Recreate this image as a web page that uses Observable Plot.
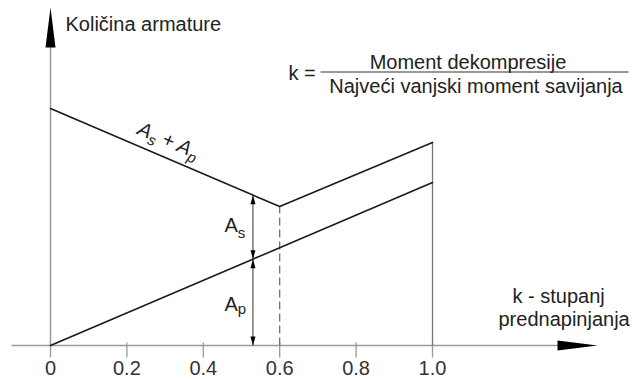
<!DOCTYPE html>
<html>
<head>
<meta charset="utf-8">
<script src="https://cdn.jsdelivr.net/npm/d3@7"></script>
<script src="https://cdn.jsdelivr.net/npm/@observablehq/plot@0.6"></script>
<style>
  html, body { margin: 0; padding: 0; background: #fff; }
</style>
</head>
<body>
<div id="chart"></div>
<script>
// ---- data ----
const xTicks = [0, 0.2, 0.4, 0.6, 0.8, 1.0];
const xTickLabels = ["0", "0.2", "0.4", "0.6", "0.8", "1.0"];
const sumK = [0, 0.6, 1.0];          // As + Ap
const sumV = [79, 46.3, 67.7];
const apK = [0, 1.0];                // Ap
const apV = [0, 54.3];
const kDecomp = 0.6;                 // dashed line
const kMark = 0.53;                  // dimension arrows
const kMax = 1.0;
const yTitle = "Količina armature";
const xTitle1 = "k - stupanj";
const xTitle2 = "prednapinjanja";
const formulaLeft = "k =";
const formulaNum = "Moment dekompresije";
const formulaDen = "Najveći vanjski moment savijanja";

// axis extents (in data units)
const X_FROM = -0.102, X_TIP = 1.432, Y_TIP = 112.67;

const sumData = sumK.map((k, i) => ({k, v: sumV[i]}));
const apData = apK.map((k, i) => ({k, v: apV[i]}));
const lerp = (K, V, k) => {
  for (let i = 0; i < K.length - 1; i++)
    if (k >= K[i] && k <= K[i + 1]) return V[i] + (V[i + 1] - V[i]) * (k - K[i]) / (K[i + 1] - K[i]);
  return V[V.length - 1];
};
const sumAt = k => lerp(sumK, sumV, k);
const apAt = k => lerp(apK, apV, k);

// arrowhead symbol: tip at origin, pointing up
const tri = (len, half) => ({
  draw(ctx) { ctx.moveTo(0, 0); ctx.lineTo(half, len); ctx.lineTo(-half, len); ctx.closePath(); }
});

const AX = "#9a9a9a", INK = "#1a1a1a", TXT = "#222";
const FONT = "'Liberation Sans', Arial, Helvetica, sans-serif";

const dimHeads = [
  {k: kMark, v: sumAt(kMark), r: 0},
  {k: kMark, v: apAt(kMark), r: 180},
  {k: kMark, v: apAt(kMark), r: 0},
  {k: kMark, v: 0, r: 180}
];

const txt = (data, opts) => Plot.text(data, {x: "x", y: "y", text: "t", lineAnchor: "bottom",
  fontSize: 20, fill: TXT, ...opts});

const chart = Plot.plot({
  width: 632,
  height: 379,
  marginLeft: 50,
  marginRight: 200,
  marginTop: 9,
  marginBottom: 34,
  x: {domain: [0, 1], axis: null},
  y: {domain: [0, 112], axis: null},
  style: {fontFamily: FONT, background: "#fff"},
  marks: [
    // x axis
    Plot.link([{x1: X_FROM, x2: X_TIP - 0.06, y: 0}], {x1: "x1", x2: "x2", y1: "y", y2: "y", stroke: AX, strokeWidth: 1.5}),
    Plot.dot([{x: X_TIP, y: 0}], {x: "x", y: "y", symbol: tri(40, 5), rotate: 90, r: 5, fill: "#000", stroke: "none"}),
    // y axis
    Plot.link([{x: 0, y1: 0, y2: Y_TIP - 6}], {x1: "x", x2: "x", y1: "y1", y2: "y2", stroke: AX, strokeWidth: 1.5}),
    Plot.dot([{x: 0, y: Y_TIP}], {x: "x", y: "y", symbol: tri(40, 5), rotate: 0, r: 5, fill: "#000", stroke: "none"}),
    // ticks (cross the axis, mostly below)
    Plot.link(xTicks.map(k => ({k})), {x1: "k", x2: "k", y1: () => -4, y2: () => 1, stroke: AX, strokeWidth: 1.3}),
    Plot.text(xTicks.map((k, i) => ({k, t: xTickLabels[i]})), {x: "k", y: () => 0, text: "t", dy: 23.5, fontSize: 20, fill: "#333"}),
    // vertical at k = 1
    Plot.link([{k: kMax, y1: 0, y2: sumAt(kMax)}], {x1: "k", x2: "k", y1: "y1", y2: "y2", stroke: "#777", strokeWidth: 1.3}),
    // dashed at k = 0.6
    Plot.link([{k: kDecomp, y1: 0, y2: sumAt(kDecomp)}], {x1: "k", x2: "k", y1: "y1", y2: "y2", stroke: "#666", strokeWidth: 1.2, strokeDasharray: "8,4"}),
    // lines
    Plot.line(sumData, {x: "k", y: "v", stroke: INK, strokeWidth: 1.6}),
    Plot.line(apData, {x: "k", y: "v", stroke: INK, strokeWidth: 1.6}),
    // dimension line
    Plot.link([{k: kMark, y1: 0, y2: sumAt(kMark)}], {x1: "k", x2: "k", y1: "y1", y2: "y2", stroke: "#333", strokeWidth: 1}),
    Plot.dot(dimHeads, {x: "k", y: "v", rotate: "r", symbol: tri(9, 2.5), r: 3, fill: "#000", stroke: "none"}),
    // labels
    txt([{x: (65 - 50) / 382, y: (345 - 30) / 3, t: yTitle}], {textAnchor: "start"}),
    txt([{x: (288 - 50) / 382, y: (345 - 79) / 3, t: formulaLeft}], {textAnchor: "start"}),
    txt([{x: (467.5 - 50) / 382, y: (345 - 68) / 3, t: formulaNum}], {textAnchor: "middle"}),
    Plot.link([{x1: (320 - 50) / 382, x2: (628 - 50) / 382, y: (345 - 71.5) / 3}], {x1: "x1", x2: "x2", y1: "y", y2: "y", stroke: "#333", strokeWidth: 1.2}),
    txt([{x: (475.5 - 50) / 382, y: (345 - 92) / 3, t: formulaDen}], {textAnchor: "middle"}),
    txt([{x: (512 - 50) / 382, y: (345 - 302) / 3, t: xTitle1}], {textAnchor: "start"}),
    txt([{x: (498 - 50) / 382, y: (345 - 325) / 3, t: xTitle2}], {textAnchor: "start"}),
    txt([{x: (224 - 50) / 382, y: (345 - 231) / 3, t: "As"}], {textAnchor: "start"}),
    txt([{x: (224 - 50) / 382, y: (345 - 310) / 3, t: "Ap"}], {textAnchor: "start"}),
    Plot.text([{x: (168 - 50) / 382, y: (345 - 140) / 3, t: "As + Ap"}], {x: "x", y: "y", text: "t", rotate: 23.2,
      fontSize: 20, fontStyle: "italic", fill: TXT, textAnchor: "middle"})
  ]
});

// subscripts
const NS = "http://www.w3.org/2000/svg";
function setSub(t, parts) {
  t.textContent = "";
  for (const [s, opts] of parts) {
    const ts = document.createElementNS(NS, "tspan");
    ts.textContent = s;
    if (opts.size) ts.setAttribute("font-size", opts.size);
    if (opts.dy) ts.setAttribute("dy", opts.dy);
    t.appendChild(ts);
  }
}
chart.querySelectorAll("text").forEach(t => {
  const s = t.textContent;
  if (s === "As") setSub(t, [["A", {}], ["s", {size: 15, dy: 6}]]);
  else if (s === "Ap") setSub(t, [["A", {}], ["p", {size: 15, dy: 3}]]);
  else if (s === "As + Ap") setSub(t, [["A", {}], ["s", {size: 15, dy: 5}], [" + ", {dy: -5}], ["A", {}], ["p", {size: 15, dy: 5}]]);
});

document.getElementById("chart").appendChild(chart);
</script>
</body>
</html>
